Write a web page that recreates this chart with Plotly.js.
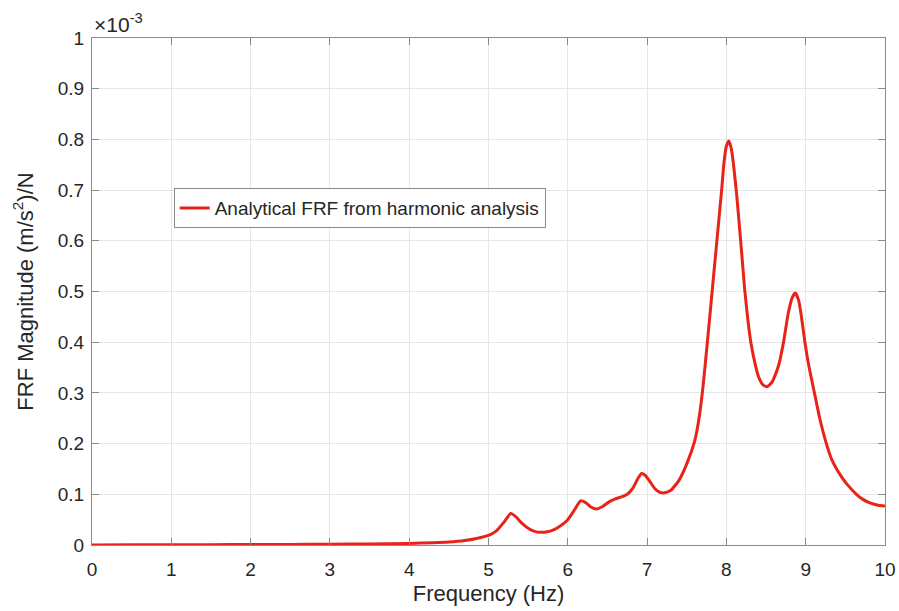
<!DOCTYPE html>
<html>
<head>
<meta charset="utf-8">
<script src="https://cdn.plot.ly/plotly-3.0.1.min.js"></script>
<style>html,body{margin:0;padding:0;background:#fff;}#chart{width:899px;height:611px;}</style>
</head>
<body>
<div id="chart"></div>
<script>
// Frequency (Hz)
const freq = [0,0.5,1,1.5,2,2.5,3,3.5,4,4.3,4.5,4.7,4.85,5.0,5.1,5.2,5.28,5.35,5.42,5.5,5.58,5.66,5.74,5.82,5.9,6.0,6.08,6.16,6.22,6.29,6.36,6.44,6.52,6.6,6.68,6.75,6.82,6.88,6.93,6.98,7.04,7.1,7.16,7.22,7.3,7.4,7.5,7.6,7.65,7.7,7.76,7.82,7.88,7.94,7.97,8.0,8.03,8.06,8.09,8.13,8.18,8.23,8.27,8.31,8.37,8.41,8.46,8.51,8.57,8.61,8.66,8.72,8.78,8.83,8.87,8.91,8.94,8.99,9.04,9.11,9.18,9.27,9.33,9.39,9.45,9.52,9.64,9.72,9.81,9.9,10];
// FRF magnitude, in units of 1e-3 (m/s^2)/N
const frf = [0,0.0003,0.0005,0.0007,0.0009,0.0012,0.0016,0.0022,0.0032,0.0045,0.006,0.009,0.013,0.019,0.028,0.046,0.062,0.055,0.043,0.033,0.027,0.025,0.026,0.030,0.037,0.050,0.068,0.087,0.084,0.075,0.071,0.076,0.085,0.091,0.095,0.100,0.112,0.130,0.141,0.137,0.124,0.111,0.104,0.103,0.108,0.127,0.160,0.205,0.245,0.305,0.400,0.500,0.600,0.700,0.755,0.787,0.797,0.783,0.750,0.690,0.600,0.505,0.445,0.398,0.352,0.330,0.316,0.312,0.320,0.333,0.355,0.400,0.457,0.488,0.497,0.483,0.457,0.400,0.353,0.300,0.248,0.195,0.168,0.150,0.135,0.120,0.100,0.090,0.083,0.079,0.077];
const xTicks = [0,1,2,3,4,5,6,7,8,9,10];
const yTicks = [0,0.1,0.2,0.3,0.4,0.5,0.6,0.7,0.8,0.9,1];
const yTickText = ['0','0.1','0.2','0.3','0.4','0.5','0.6','0.7','0.8','0.9','1'];
const seriesName = 'Analytical FRF from harmonic analysis';

const font = 'Liberation Sans, Arial, Helvetica, sans-serif';
const trace = {
  x: freq, y: frf, type: 'scatter', mode: 'lines', name: seriesName,
  line: {color: '#e8231a', width: 3, shape: 'spline', smoothing: 0.5}
};
const axisCommon = {
  showline: true, linecolor: '#8a8a8a', linewidth: 1, mirror: 'ticks',
  ticks: 'inside', ticklen: 7, tickcolor: '#8a8a8a',
  showgrid: true, gridcolor: '#e6e6e6', gridwidth: 1, zeroline: false,
  tickfont: {family: font, size: 19, color: '#262626'}
};
const layout = {
  width: 899, height: 611,
  margin: {l: 92, r: 14, t: 38, b: 66},
  paper_bgcolor: '#fff', plot_bgcolor: '#fff',
  showlegend: true,
  legend: {x: 0.103, y: 0.704, xanchor: 'left', yanchor: 'top',
    bordercolor: '#8a8a8a', borderwidth: 1, bgcolor: '#fff',
    font: {family: font, size: 19, color: '#262626'}, itemwidth: 30,
    tracegroupgap: 0},
  xaxis: Object.assign({}, axisCommon, {range: [0, 10], tickvals: xTicks, automargin: false,
    ticklabelstandoff: 7,
    title: {text: 'Frequency (Hz)', font: {family: font, size: 22, color: '#262626'}, standoff: 6}}),
  yaxis: Object.assign({}, axisCommon, {range: [0, 1], tickvals: yTicks, ticktext: yTickText, automargin: false,
    ticklabelstandoff: 3,
    title: {text: 'FRF Magnitude (m/s<sup>2</sup>)/N', font: {family: font, size: 22, color: '#262626'}, standoff: 18}}),
  annotations: [{
    xref: 'paper', yref: 'paper', x: 0, y: 1, xanchor: 'left', yanchor: 'bottom',
    text: '×10<sup>-3</sup>', showarrow: false, xshift: 0, yshift: 0,
    font: {family: font, size: 21, color: '#262626'}
  }]
};
Plotly.newPlot('chart', [trace], layout, {displayModeBar: false, staticPlot: true});
</script>
</body>
</html>
